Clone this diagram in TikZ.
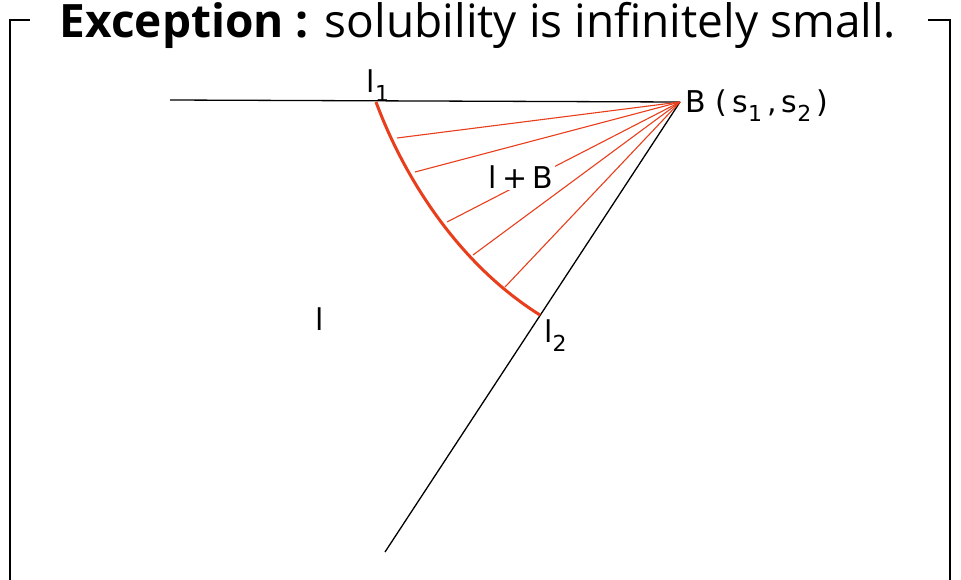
\documentclass[tikz,border=0pt]{standalone}
\usepackage{fontspec}
\setmainfont{Open Sans}
\newfontfamily\labfont{DejaVu Sans}
\definecolor{drawred}{RGB}{232,62,28}
\newcommand{\lowsub}[1]{\raisebox{-0.32em}{\fontsize{22}{22}\selectfont #1}}
\begin{document}
\begin{tikzpicture}[x=1pt,y=-1pt,
  frameline/.style={black, line width=1.6pt},
  blackline/.style={black, line width=1.3pt},
  tieline/.style={drawred, line width=1.1pt},
  curveline/.style={drawred, line width=3pt},
  lab/.style={font=\labfont\fontsize{30}{30}\selectfont, inner sep=1pt}]
\useasboundingbox (0,0) rectangle (961,579);
\fill[white] (0,0) rectangle (961,579);
% frame
\draw[frameline] (30,20) -- (10,20) -- (10,590);
\draw[frameline] (928,20) -- (950,20) -- (950,590);
\node[anchor=base, inner sep=0pt] (title) at (478,37)
  {\fontsize{46}{46}\selectfont\textbf{Exception :} solubility is infinitely small.};
% points
\coordinate (B) at (680,102);
\coordinate (L) at (170,100);
\coordinate (E) at (385,552);
\coordinate (l1p) at (376,102);
\coordinate (l2p) at (540,315);
% black lines
\draw[blackline] (L) -- (B);
\draw[blackline] (B) -- (E);
% tie lines
\coordinate (t1) at (397,138);
\coordinate (t2) at (415,172);
\coordinate (t3) at (447,222);
\coordinate (t4) at (473,255);
\coordinate (t5) at (505,287);
\foreach \t in {t1,t2,t3,t4,t5} \draw[tieline] (\t) -- (B);
% boundary curve
\draw[curveline] (l1p) .. controls (405,180) and (460,265) .. (l2p);
% labels
\node[lab, fill=white, inner sep=2pt] (lB) at (521,177) {l\,+\,B};
\node[lab, anchor=base west] (Blab) at (684,112) {B\,\,(\,s\lowsub{1}\,,\,s\lowsub{2}\,)};
\node[lab, anchor=base] (l1lab) at (378,92) {l\lowsub{1}};
\node[lab, anchor=base west] (l2lab) at (543,342) {l\lowsub{2}};
\node[lab, anchor=base] (llab) at (320,330) {l};
\end{tikzpicture}
\end{document}
